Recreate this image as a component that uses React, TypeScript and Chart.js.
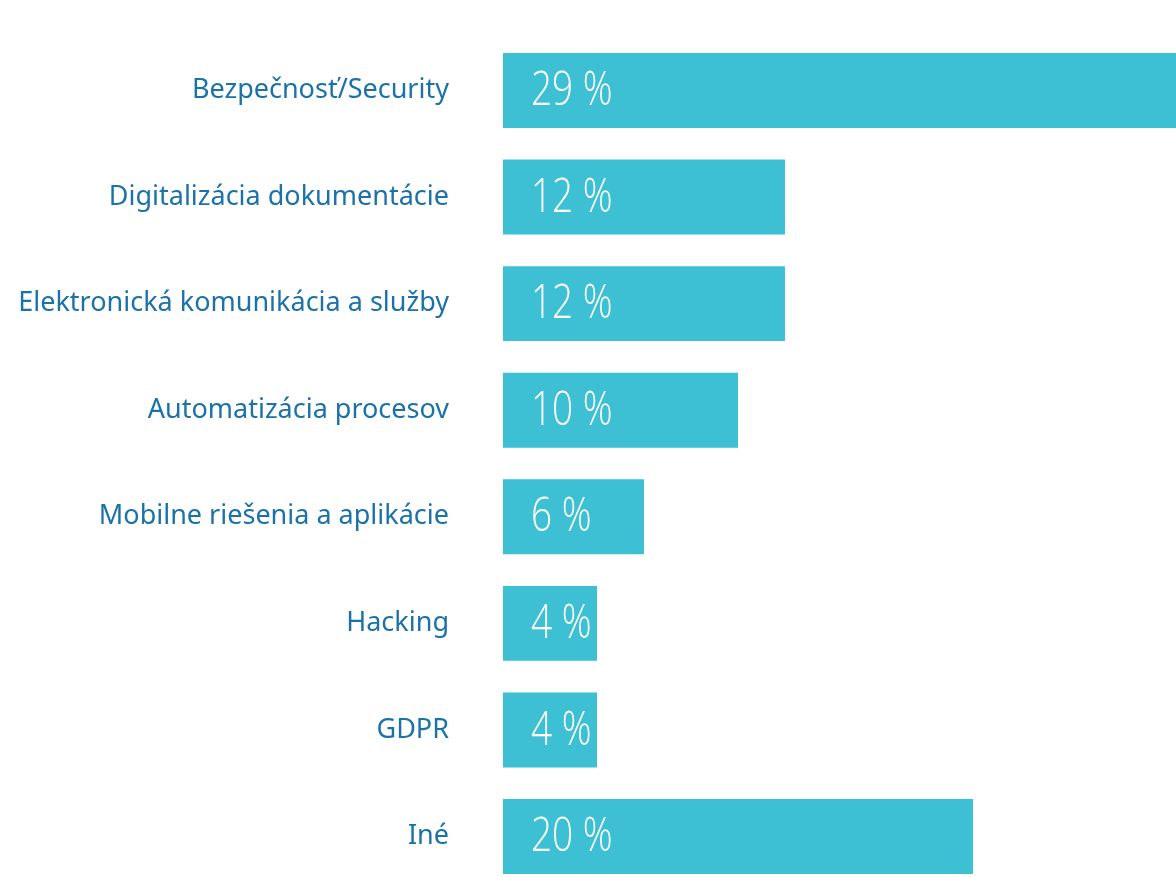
import React, { useEffect, useRef } from "react";
import { Chart, registerables } from "chart.js";

Chart.register(...registerables);

const categories = [
  "Bezpečnosť/Security",
  "Digitalizácia dokumentácie",
  "Elektronická komunikácia a služby",
  "Automatizácia procesov",
  "Mobilne riešenia a aplikácie",
  "Hacking",
  "GDPR",
  "Iné",
];
const values = [29, 12, 12, 10, 6, 4, 4, 20];
const valueLabels = ["29 %", "12 %", "12 %", "10 %", "6 %", "4 %", "4 %", "20 %"];

const BAR_COLOR = "#3dc0d3";
const LABEL_COLOR = "#1a72a8";

const valueLabelPlugin = {
  id: "valueLabels",
  afterDatasetsDraw(chart: any) {
    const ctx = chart.ctx;
    const meta = chart.getDatasetMeta(0);
    ctx.save();
    ctx.fillStyle = "#ffffff";
    ctx.font = "300 48px 'Open Sans'";
    ctx.textAlign = "left";
    ctx.textBaseline = "middle";
    meta.data.forEach((bar: any, i: number) => {
      const x0 = bar.base + 28;
      ctx.save();
      ctx.translate(x0, bar.y + 1);
      ctx.scale(0.77, 1);
      ctx.fillText(valueLabels[i], 0, 0);
      ctx.restore();
    });
    ctx.restore();
  },
};

export default function App() {
  const canvasRef = useRef<HTMLCanvasElement | null>(null);

  useEffect(() => {
    if (!canvasRef.current) return;
    const chart = new Chart(canvasRef.current, {
      type: "bar",
      data: {
        labels: categories,
        datasets: [
          {
            data: values,
            backgroundColor: BAR_COLOR,
            borderWidth: 0,
            barPercentage: 0.703,
            categoryPercentage: 1,
            clip: false as any,
          },
        ],
      },
      options: {
        indexAxis: "y",
        animation: false,
        responsive: true,
        maintainAspectRatio: false,
        layout: { padding: { top: 90.5, bottom: 40.5, left: 0, right: 0 } },
        plugins: {
          legend: { display: false },
          tooltip: { enabled: false },
          title: { display: false },
        },
        scales: {
          x: { display: false, min: 0, max: 28.64 },
          y: {
            offset: false,
            grid: { display: false },
            border: { display: false },
            ticks: {
              color: LABEL_COLOR,
              font: { family: "'Noto Sans'", size: 27 },
              padding: 46,
            },
            afterFit(scale: any) {
              scale.width = 503;
              scale.paddingTop = 0;
              scale.paddingBottom = 0;
            },
          },
        },
      },
      plugins: [valueLabelPlugin],
    });
    return () => chart.destroy();
  }, []);

  return (
    <div style={{ position: "absolute", left: 0, top: 0, width: 1176, height: 877 }}>
      <canvas ref={canvasRef} />
    </div>
  );
}
